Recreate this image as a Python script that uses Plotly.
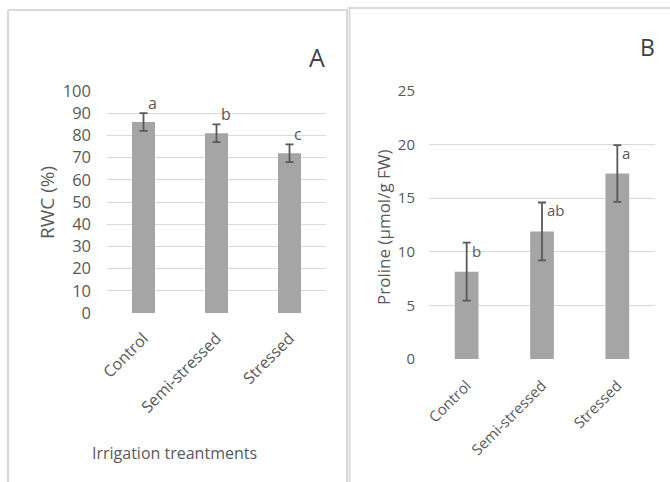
import plotly.graph_objects as go

W, H = 670, 482

categories = ["Control", "Semi-stressed", "Stressed"]
rwc_values = [86, 81, 72]
rwc_errors = [4, 4, 4]
rwc_letters = ["a", "b", "c"]

proline_values = [8.15, 11.9, 17.3]
proline_errors = [2.7, 2.7, 2.65]
proline_letters = ["b", "ab", "a"]

rwc_ticks = list(range(0, 101, 10))
proline_ticks = [0, 5, 10, 15, 20, 25]

BAR = "#A5A5A5"
ERR = "#595959"
GRID = "#D9D9D9"
TXT = "#595959"
FONT = "Open Sans"


def px(x):
    return x / W


def py(y):
    return 1 - y / H


fig = go.Figure()
fig.add_trace(go.Bar(
    x=categories, y=rwc_values, marker_color=BAR, marker_line_width=0,
    error_y=dict(type="data", array=rwc_errors, color=ERR, thickness=1.8, width=4),
    xaxis="x", yaxis="y", showlegend=False, hoverinfo="skip"))
fig.add_trace(go.Bar(
    x=categories, y=proline_values, marker_color=BAR, marker_line_width=0,
    error_y=dict(type="data", array=proline_errors, color=ERR, thickness=1.8, width=4),
    xaxis="x2", yaxis="y2", showlegend=False, hoverinfo="skip"))

fig.update_layout(
    template="none",
    width=W, height=H, margin=dict(l=0, r=0, t=0, b=0, autoexpand=False),
    paper_bgcolor="white", plot_bgcolor="white",
    bargap=0.685,
    font=dict(family=FONT, color=TXT),
    xaxis=dict(domain=[px(107), px(326)], anchor="y", tickangle=-45, automargin=False,
               showgrid=False, ticks="", ticklabelstandoff=12,
               tickfont=dict(family=FONT, color=TXT, size=16), showline=False, zeroline=False),
    yaxis=dict(domain=[py(313), py(91)], anchor="x", range=[0, 100], automargin=False,
               tickvals=rwc_ticks, showgrid=True, gridcolor=GRID, gridwidth=1,
               ticks="", ticklabelstandoff=15, zeroline=False, showline=False,
               tickfont=dict(family=FONT, color=TXT, size=16.5)),
    xaxis2=dict(domain=[px(429), px(655)], anchor="y2", tickangle=-45, automargin=False,
                showgrid=False, ticks="", ticklabelstandoff=14,
                tickfont=dict(family=FONT, color=TXT, size=15), showline=False, zeroline=False),
    yaxis2=dict(domain=[py(359), py(91)], anchor="x2", range=[0, 25], automargin=False,
                tickvals=proline_ticks, showgrid=True, gridcolor=GRID, gridwidth=1,
                ticks="", ticklabelstandoff=13, zeroline=False, showline=False,
                tickfont=dict(family=FONT, color=TXT, size=15)),
)

annotations = []
# significance letters, panel A (above error bars)
for i, (v, e, t) in enumerate(zip(rwc_values, rwc_errors, rwc_letters)):
    annotations.append(dict(x=categories[i], y=v + e, xref="x", yref="y", text=t,
                            showarrow=False, xanchor="left", yanchor="bottom",
                            xshift=2, yshift=-3, font=dict(family=FONT, size=16, color=TXT)))
# panel B (right of error bar cap)
for i, (v, e, t) in enumerate(zip(proline_values, proline_errors, proline_letters)):
    annotations.append(dict(x=categories[i], y=v + e, xref="x2", yref="y2", text=t,
                            showarrow=False, xanchor="left", yanchor="top",
                            xshift=3, yshift=4, font=dict(family=FONT, size=15, color=TXT)))

center = dict(showarrow=False, xref="paper", yref="paper", xanchor="center", yanchor="middle")
annotations += [
    dict(x=px(317), y=py(57), text="A", font=dict(family=FONT, size=25, color="#404040"), **center),
    dict(x=px(647), y=py(47), text="B", font=dict(family=FONT, size=23, color="#404040"), **center),
    dict(x=px(47), y=py(203), text="RWC (%)", textangle=-90,
         font=dict(family=FONT, size=19, color=TXT), **center),
    dict(x=px(383), y=py(227), text="Proline (µmol/g FW)", textangle=-90,
         font=dict(family=FONT, size=17, color=TXT), **center),
    dict(x=px(175), y=py(453), text="Irrigation treantments",
         font=dict(family=FONT, size=16, color=TXT), **center),
]
fig.update_layout(annotations=annotations)

line = dict(color=GRID, width=2)
shapes = [
    dict(type="line", xref="paper", yref="paper", x0=px(8), x1=px(348), y0=py(10), y1=py(10), line=line),
    dict(type="line", xref="paper", yref="paper", x0=px(8), x1=px(8), y0=py(10), y1=py(485), line=line),
    dict(type="line", xref="paper", yref="paper", x0=px(347), x1=px(347), y0=py(10), y1=py(485), line=line),
    dict(type="line", xref="paper", yref="paper", x0=px(348), x1=px(672), y0=py(8), y1=py(8), line=line),
    dict(type="line", xref="paper", yref="paper", x0=px(349.5), x1=px(349.5), y0=py(8), y1=py(485), line=line),
]
fig.update_layout(shapes=shapes)

fig.write_html("out.html", config={"displayModeBar": False},
               post_script="document.body.style.margin='0';document.body.style.overflow='hidden';")
